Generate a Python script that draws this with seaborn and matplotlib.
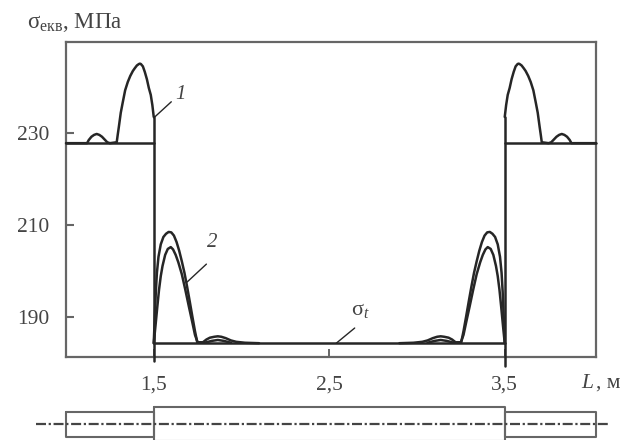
"""Equivalent stress along the shaft length, with the shaft sketch below."""
import matplotlib
matplotlib.use("Agg")
import matplotlib.pyplot as plt
import pandas as pd
import seaborn as sns

sns.set_theme(style="white")
plt.rcParams["font.family"] = ["Liberation Serif", "DejaVu Serif"]
plt.rcParams["mathtext.fontset"] = "custom"
plt.rcParams["mathtext.rm"] = "Liberation Serif"
plt.rcParams["mathtext.it"] = "Liberation Serif:italic"

GREY = "#666666"
INK = "#262626"
TXT = "#444444"
W, H = 624, 440

# curve 1, thick end sections
x_left = [1.0, 1.12, 1.13, 1.145, 1.16, 1.175, 1.19, 1.205, 1.22, 1.235, 1.25, 1.289,
          1.295, 1.301, 1.312, 1.323, 1.337, 1.352, 1.366, 1.381, 1.392, 1.404, 1.415,
          1.421, 1.427, 1.438, 1.449, 1.461, 1.472, 1.483, 1.492, 1.5]
y_left = [227.7, 227.7, 228.4, 229.1, 229.5, 229.7, 229.5, 229.1, 228.5, 227.9, 227.7, 227.9,
          229.6, 231.2, 234.3, 236.5, 239.2, 241.0, 242.3, 243.4, 244.0, 244.6, 244.9,
          245.0, 244.9, 244.4, 243.2, 241.6, 239.7, 238.2, 236.0, 233.4]
x_right = [3.5, 3.508, 3.517, 3.528, 3.539, 3.551, 3.562, 3.573, 3.579, 3.585, 3.596, 3.608,
           3.619, 3.634, 3.648, 3.663, 3.677, 3.688, 3.699, 3.705, 3.711, 3.75, 3.765, 3.78,
           3.795, 3.81, 3.825, 3.84, 3.855, 3.87, 3.88, 4.02]
y_right = [233.4, 236.0, 238.2, 239.7, 241.6, 243.2, 244.4, 244.9, 245.0, 244.9, 244.6, 244.0,
           243.4, 242.3, 241.0, 239.2, 236.5, 234.3, 231.2, 229.6, 227.9, 227.7, 227.9, 228.5,
           229.1, 229.5, 229.7, 229.5, 229.1, 228.4, 227.7, 227.7]

# curve 2, the two stress peaks inside the middle section
x_up_a = [1.5, 1.506, 1.512, 1.518, 1.527, 1.54, 1.555, 1.57, 1.585, 1.6, 1.615, 1.63,
          1.645, 1.66, 1.675, 1.69, 1.705, 1.72, 1.735, 1.748, 1.78, 1.80, 1.82, 1.845,
          1.865, 1.885, 1.91, 1.94, 1.97, 2.02, 2.1]
y_up_a = [184.2, 190.0, 195.5, 199.5, 203.0, 205.7, 207.3, 208.0, 208.4, 208.3, 207.6, 206.2,
          204.3, 202.0, 199.5, 196.5, 193.3, 190.0, 186.8, 184.4, 184.4, 185.0, 185.4, 185.6,
          185.7, 185.6, 185.3, 184.8, 184.5, 184.3, 184.2]
x_low_a = [1.5, 1.51, 1.52, 1.53, 1.54, 1.55, 1.565, 1.58, 1.597, 1.61, 1.625, 1.64,
           1.66, 1.68, 1.70, 1.72, 1.735, 1.75, 1.79, 1.83, 1.865, 1.90, 1.94]
y_low_a = [184.2, 188.0, 192.0, 195.8, 198.8, 201.0, 203.4, 204.7, 205.1, 204.6, 203.4, 201.8,
           199.2, 195.8, 192.2, 188.7, 186.0, 184.4, 184.3, 184.7, 184.9, 184.7, 184.3]
x_up_b = [2.9, 2.98, 3.03, 3.06, 3.09, 3.115, 3.135, 3.155, 3.18, 3.20, 3.22, 3.252,
          3.265, 3.28, 3.295, 3.31, 3.325, 3.34, 3.355, 3.37, 3.385, 3.40, 3.415, 3.43,
          3.445, 3.46, 3.473, 3.482, 3.488, 3.494, 3.5]
y_up_b = [184.2, 184.3, 184.5, 184.8, 185.3, 185.6, 185.7, 185.6, 185.4, 185.0, 184.4, 184.4,
          186.8, 190.0, 193.3, 196.5, 199.5, 202.0, 204.3, 206.2, 207.6, 208.3, 208.4, 208.0,
          207.3, 205.7, 203.0, 199.5, 195.5, 190.0, 184.2]
x_low_b = [3.06, 3.10, 3.135, 3.17, 3.21, 3.25, 3.265, 3.28, 3.30, 3.32, 3.34, 3.36,
           3.375, 3.39, 3.403, 3.42, 3.435, 3.45, 3.46, 3.47, 3.48, 3.49, 3.5]
y_low_b = [184.3, 184.7, 184.9, 184.7, 184.3, 184.4, 186.0, 188.7, 192.2, 195.8, 199.2, 201.8,
           203.4, 204.6, 205.1, 204.7, 203.4, 201.0, 198.8, 195.8, 192.0, 188.0, 184.2]

# flat sigma_t levels and the two section steps
x_flat_mid = [1.5, 3.5]
y_flat_mid = [184.2, 184.2]
x_flat_l = [1.0, 1.5]
x_flat_r = [3.5, 4.02]
y_flat_end = [227.7, 227.7]
x_step_l = [1.5, 1.5]
x_step_r = [3.5, 3.5]
y_step_l = [233.4, 180.3]
y_step_r = [233.4, 179.3]

y_ticks = [190, 210, 230]
x_ticks = [1.5, 2.5, 3.5]
x_tick_labels = ["1,5", "2,5", "3,5"]

# shaft sketch: section borders and half heights (px-ish units)
shaft_edges = [1.0, 1.5, 3.5, 4.02]
shaft_half = [12.5, 17, 12.5]

pieces = {"left": (x_left, y_left), "right": (x_right, y_right),
          "up_a": (x_up_a, y_up_a), "low_a": (x_low_a, y_low_a),
          "up_b": (x_up_b, y_up_b), "low_b": (x_low_b, y_low_b),
          "mid": (x_flat_mid, y_flat_mid), "end_l": (x_flat_l, y_flat_end),
          "end_r": (x_flat_r, y_flat_end),
          "step_l": (x_step_l, y_step_l), "step_r": (x_step_r, y_step_r)}
df = pd.concat([pd.DataFrame({"L": xs, "s": ys, "piece": name})
                for name, (xs, ys) in pieces.items()])

fig = plt.figure(figsize=(W / 100, H / 100), dpi=100, facecolor="white")
ax = fig.add_axes([66 / W, 1 - 357 / H, 530 / W, 315 / H])

sns.lineplot(data=df, x="L", y="s", units="piece", estimator=None, sort=False,
             color=INK, linewidth=1.8, ax=ax, zorder=3, clip_on=False)

ax.set_xlim(1.0, 4.02)
ax.set_ylim(181.2, 249.7)
ax.set_xlabel("")
ax.set_ylabel("")
ax.set_xticks(x_ticks)
ax.set_xticklabels(x_tick_labels)
ax.set_yticks(y_ticks)
ax.tick_params(axis="y", direction="in", length=6, width=1.5, color=GREY,
               labelsize=15.5, labelcolor=TXT, left=True, pad=12)
ax.tick_params(axis="x", direction="in", length=6, width=1.4, color=GREY,
               labelsize=15.5, labelcolor=TXT, bottom=True, pad=13)
for s in ax.spines.values():
    s.set_color(GREY)
    s.set_linewidth(1.6)

# axis captions
fig.text(27 / W, 1 - 22 / H, "$\\mathrm{\\sigma}_{\\mathrm{екв}}$, МПа", fontsize=16.5,
         color=TXT, va="center", ha="left")
fig.text(581 / W, 1 - 383 / H, "L", fontsize=15.5, style="italic", color=TXT,
         va="center", ha="left")
fig.text(596 / W, 1 - 383 / H, ", м", fontsize=15.5, color=TXT, va="center", ha="left")

# leader lines and curve labels
ax.annotate("", xy=(1.5, 233.2), xytext=(1.6, 236.7),
            arrowprops=dict(arrowstyle="-", color=INK, lw=1.0, shrinkA=0, shrinkB=0))
ax.text(1.655, 238.2, "1", fontsize=15, style="italic", color=TXT, ha="center", va="center")
ax.annotate("", xy=(1.69, 197.5), xytext=(1.8, 201.4),
            arrowprops=dict(arrowstyle="-", color=INK, lw=1.0, shrinkA=0, shrinkB=0))
ax.text(1.835, 206.2, "2", fontsize=15, style="italic", color=TXT, ha="center", va="center")
ax.annotate("", xy=(2.54, 184.2), xytext=(2.645, 187.5),
            arrowprops=dict(arrowstyle="-", color=INK, lw=1.0, shrinkA=0, shrinkB=0))
ax.text(2.68, 191.3, "$\\mathrm{\\sigma}_{\\mathit{t}}$", fontsize=16, color=TXT,
        ha="center", va="center")

# shaft sketch under the chart, same x scale
ax2 = fig.add_axes([66 / W, 0, 530 / W, 60 / H])
ax2.set_xlim(1.0, 4.02)
ax2.set_ylim(-16, 44)
ax2.axis("off")
for i, half in enumerate(shaft_half):
    x0, x1 = shaft_edges[i], shaft_edges[i + 1]
    ax2.plot([x0, x1, x1, x0, x0], [half, half, -half, -half, half], color=GREY,
             linewidth=1.5, clip_on=False)
ax2.plot([0.83, 4.09], [0, 0], color="#444444", linewidth=1.6, clip_on=False,
         dashes=(4.5, 1.2, 1, 1.2))

fig.savefig("out.png", dpi=100)
